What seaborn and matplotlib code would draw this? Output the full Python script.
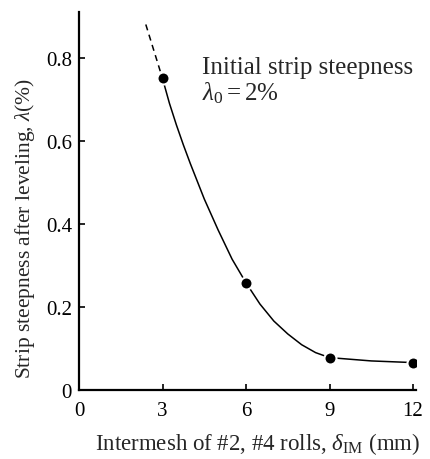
import matplotlib
matplotlib.use("Agg")
import matplotlib.pyplot as plt
import seaborn as sns
import pandas as pd

# measured points
intermesh = [3, 6, 9, 12]
steepness = [0.75, 0.258, 0.078, 0.066]

# fitted curve (solid part)
curve_x = [3.0, 3.25, 3.5, 3.75, 4.0, 4.5, 5.0, 5.5, 6.0, 6.5, 7.0, 7.5, 8.0, 8.5, 9.0, 10.5, 12.0]
curve_y = [0.75, 0.69, 0.638, 0.59, 0.545, 0.46, 0.385, 0.315, 0.258, 0.207, 0.166, 0.135, 0.109, 0.09, 0.078, 0.070, 0.066]

# extrapolated (dashed) part
dash_x = [2.4, 3.0]
dash_y = [0.88, 0.75]

x_ticks = [0, 3, 6, 9, 12]
y_ticks = [0, 0.2, 0.4, 0.6, 0.8]
y_ticklabels = ["0", "0.2", "0.4", "0.6", "0.8"]

sns.set_theme(style="ticks")
plt.rcParams["font.family"] = ["Liberation Serif", "DejaVu Serif"]
plt.rcParams["mathtext.fontset"] = "custom"
plt.rcParams["mathtext.rm"] = "Liberation Serif"
plt.rcParams["mathtext.it"] = "Liberation Serif:italic"

fig = plt.figure(figsize=(4.31, 4.60), dpi=100)
ax = fig.add_axes([0.1833, 0.15, 0.7814, 0.8217])

curve = pd.DataFrame({"x": curve_x, "y": curve_y})
dash = pd.DataFrame({"x": dash_x, "y": dash_y})
pts = pd.DataFrame({"x": intermesh, "y": steepness})

sns.lineplot(data=curve, x="x", y="y", sort=False, color="black", linewidth=1.1, ax=ax)
sns.lineplot(data=dash, x="x", y="y", sort=False, color="black", linewidth=1.1,
             linestyle=(0, (4, 3)), ax=ax)
sns.scatterplot(data=pts, x="x", y="y", color="black", s=75, edgecolor="white",
                linewidth=1.5, zorder=5, ax=ax)

ax.set_xlim(0, 12.1)
ax.set_ylim(0, 0.91)
ax.set_xticks(x_ticks)
ax.set_yticks(y_ticks)
ax.set_yticklabels(y_ticklabels)
ax.tick_params(direction="in", length=4, width=1.2, labelsize=15, colors="black")
ax.tick_params(axis="x", pad=8)
ax.tick_params(axis="y", pad=5)

for side in ["top", "right"]:
    ax.spines[side].set_visible(False)
for side in ["left", "bottom"]:
    ax.spines[side].set_linewidth(1.6)
    ax.spines[side].set_color("black")

ax.set_xlabel(r"Intermesh of #2, #4 rolls, $\delta_{\rm IM}$ (mm)", fontsize=16.5)
ax.set_ylabel(r"Strip steepness after leveling, $\lambda$(%)", fontsize=15.5)
ax.xaxis.set_label_coords(0.53, -0.105)
ax.yaxis.set_label_coords(-0.125, 0.431)

ax.text(4.42, 0.778, "Initial strip steepness", fontsize=18, ha="left", va="center")
ax.text(4.42, 0.716, r"$\lambda_0 = 2\%$", fontsize=18, ha="left", va="center")

fig.savefig("out.png", dpi=100)
